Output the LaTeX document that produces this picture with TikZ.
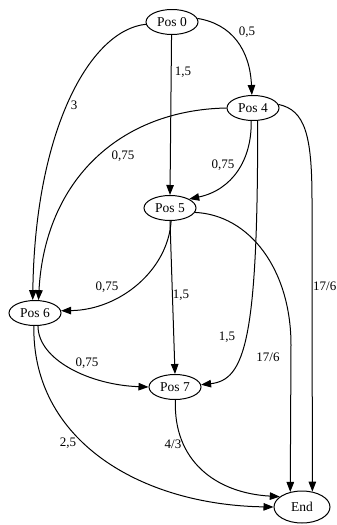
\documentclass[tikz,border=0pt]{standalone}
\usepackage{fontspec}
\setmainfont{Liberation Serif}
\usetikzlibrary{arrows.meta,shapes.geometric}
\begin{document}
\begin{tikzpicture}[x=1pt,y=-1pt,
  state/.style={draw,ellipse,line width=1pt,minimum width=52pt,minimum height=25pt,inner sep=0pt,font=\fontsize{13.5}{14}\selectfont},
  edge/.style={line width=1pt,-{Triangle[length=10pt,width=7.5pt]}},
  lbl/.style={font=\fontsize{13}{14}\selectfont,inner sep=0pt}]
\useasboundingbox (0,0) rectangle (337,525);
\node[state] (p0) at (172,22) {Pos 0};
\node[state] (p4) at (253,108) {Pos 4};
\node[state] (p5) at (170,208) {Pos 5};
\node[state] (p6) at (35,313) {Pos 6};
\node[state] (p7) at (175,387) {Pos 7};
\node[state,minimum width=56pt,minimum height=32pt] (end) at (302,507) {End};
% edges
\draw[edge] (p0.185) .. controls (90,30) and (35,130) .. (p6.100);
\draw[edge] (p0.268) -- (p5.north);
\draw[edge] (p0.8) .. controls (232,24) and (250,50) .. (p4.95);
\draw[edge] (p4.180) .. controls (120,110) and (45,180) .. (p6.75);
\draw[edge] (p4.262) .. controls (252,160) and (232,190) .. (p5.25);
\draw[edge] (p4.290) .. controls (258,340) and (245,380) .. (p7.5);
\draw[edge] (p4.8) .. controls (305,110) and (312,135) .. (312,200) -- (end.56);
\draw[edge] (p5.275) .. controls (168,270) and (120,310) .. (p6.5);
\draw[edge] (p5.south) -- (p7.north);
\draw[edge] (p5.-10) .. controls (250,215) and (291,270) .. (291,345) -- (end.128);
\draw[edge] (p6.283) .. controls (38,360) and (90,385) .. (p7.180);
\draw[edge] (p6.265) .. controls (32,440) and (140,505) .. (end.180);
\draw[edge] (p7.272) .. controls (173,460) and (215,493) .. (end.155);
% labels
\node[lbl] (l1) at (74,105) {3};
\node[lbl] (l2) at (183,72) {1,5};
\node[lbl] (l3) at (247,32) {0,5};
\node[lbl] (l4) at (123,156) {0,75};
\node[lbl] (l5) at (223,165) {0,75};
\node[lbl] (l6) at (107,287) {0,75};
\node[lbl] (l7) at (181,295) {1,5};
\node[lbl] (l8) at (227,337) {1,5};
\node[lbl,anchor=west] (l9) at (313,286) {17/6};
\node[lbl] (l10) at (268,357) {17/6};
\node[lbl] (l11) at (87,363) {0,75};
\node[lbl] (l12) at (68,443) {2,5};
\node[lbl] (l13) at (173,444) {4/3};
\end{tikzpicture}
\end{document}
